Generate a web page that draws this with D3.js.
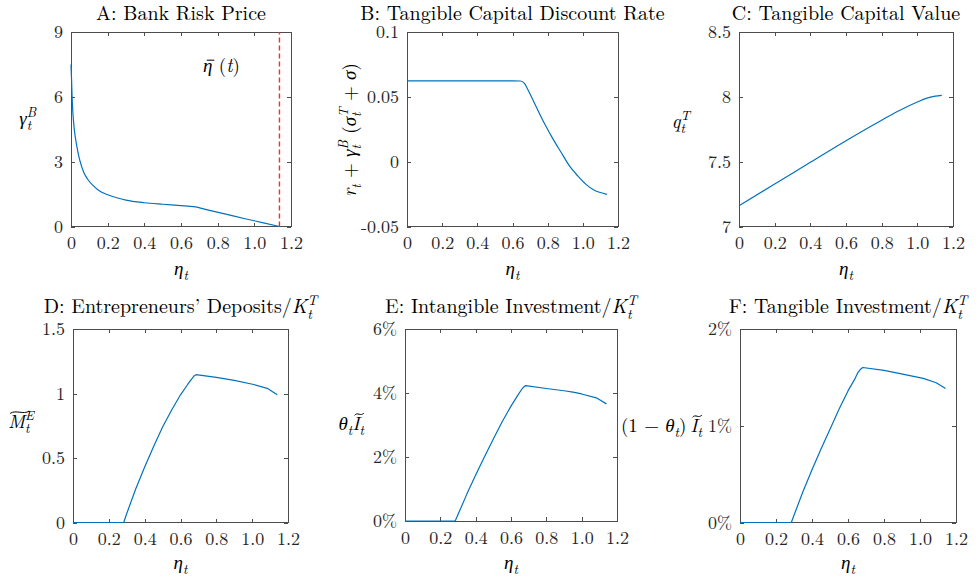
<!DOCTYPE html>
<html>
<head>
<meta charset="utf-8">
<title>Bank Risk Price and Investment</title>
<script src="https://d3js.org/d3.v7.min.js"></script>
<style>
  body { margin: 0; background: #fff; }
  svg { font-family: "Latin Modern Roman", "CMU Serif", "Liberation Serif", "Times New Roman", serif; }
  .box { fill: none; stroke: #4d4d4d; stroke-width: 1; shape-rendering: crispEdges; }
  .axis .domain { display: none; }
  .axis line { stroke: #4d4d4d; shape-rendering: crispEdges; }
  .axis text { fill: #262626; font-size: 18px; }
  .title { fill: #000; font-size: 20px; }
  .lab { fill: #000; font-size: 19px; }
  .acc { fill: none; stroke: #000; stroke-width: 1; }
  .curve { fill: none; stroke: #0072BD; stroke-width: 1.2; stroke-linejoin: round; }
  .etabar { stroke: #ff2a1f; stroke-width: 1.4; stroke-dasharray: 5 3; }
</style>
</head>
<body>
<svg width="976" height="582"></svg>
<script>
// ---- data ----
var xTicks = [0, 0.2, 0.4, 0.6, 0.8, 1.0, 1.2];
var xTickLabels = ["0", "0.2", "0.4", "0.6", "0.8", "1.0", "1.2"];

// A: bank risk price
var etaA   = [0, 0.003, 0.006, 0.01, 0.015, 0.02, 0.03, 0.04, 0.05, 0.07, 0.09, 0.12, 0.15, 0.2, 0.25, 0.3, 0.4, 0.5, 0.6, 0.67, 0.75, 0.85, 0.95, 1.05, 1.137];
var gammaB = [7.5, 6.8, 6.0, 5.3, 4.75, 4.35, 3.8, 3.35, 3.0, 2.5, 2.2, 1.9, 1.68, 1.47, 1.33, 1.22, 1.1, 1.03, 0.97, 0.92, 0.76, 0.56, 0.36, 0.17, 0.0];
var etaBar = 1.137;
var etaBarLabelPos = [0.72, 7.15];
var yTicksA = [0, 3, 6, 9];
var yTickLabelsA = ["0", "3", "6", "9"];

// B: tangible capital discount rate
var etaB     = [0, 0.2, 0.4, 0.6, 0.645, 0.668, 0.687, 0.734, 0.781, 0.829, 0.876, 0.923, 0.971, 1.018, 1.065, 1.1, 1.137];
var discRate = [0.0623, 0.0623, 0.0623, 0.0623, 0.0622, 0.0604, 0.0557, 0.0426, 0.0296, 0.0178, 0.0073, -0.0031, -0.011, -0.0175, -0.022, -0.0238, -0.0252];
var yTicksB = [-0.05, 0, 0.05, 0.1];
var yTickLabelsB = ["-0.05", "0", "0.05", "0.1"];

// C: tangible capital value
var etaC = [0, 0.2, 0.4, 0.6, 0.8, 0.9, 1.0, 1.05, 1.1, 1.137];
var qT   = [7.16, 7.327, 7.495, 7.662, 7.82, 7.895, 7.96, 7.988, 8.005, 8.012];
var yTicksC = [7, 7.5, 8, 8.5];
var yTickLabelsC = ["7", "7.5", "8", "8.5"];

// D: entrepreneurs' deposits / K^T
var etaD      = [0, 0.283, 0.3, 0.35, 0.4, 0.45, 0.5, 0.55, 0.6, 0.64, 0.661, 0.675, 0.687, 0.8, 0.9, 1.009, 1.084, 1.14];
var depositsD = [0, 0, 0.07, 0.26, 0.43, 0.59, 0.74, 0.87, 0.99, 1.07, 1.11, 1.135, 1.146, 1.125, 1.102, 1.07, 1.04, 0.99];
var yTicksD = [0, 0.5, 1, 1.5];
var yTickLabelsD = ["0", "0.5", "1", "1.5"];

// E: intangible investment / K^T (percent)
var etaE      = [0, 0.284, 0.3, 0.35, 0.4, 0.45, 0.5, 0.55, 0.6, 0.64, 0.66, 0.674, 0.684, 0.8, 0.9, 0.951, 1.0, 1.083, 1.14];
var intangInv = [0, 0, 0.2, 0.84, 1.44, 2.01, 2.56, 3.1, 3.59, 3.94, 4.11, 4.2, 4.23, 4.14, 4.07, 4.03, 3.97, 3.85, 3.66];
var yTicksE = [0, 2, 4, 6];
var yTickLabelsE = ["0%", "2%", "4%", "6%"];

// F: tangible investment / K^T (percent)
var etaF    = [0, 0.285, 0.3, 0.35, 0.4, 0.45, 0.5, 0.55, 0.6, 0.64, 0.655, 0.67, 0.682, 0.8, 0.87, 1.018, 1.09, 1.142];
var tangInv = [0, 0, 0.075, 0.32, 0.545, 0.76, 0.965, 1.17, 1.36, 1.49, 1.55, 1.585, 1.602, 1.572, 1.546, 1.489, 1.445, 1.386];
var yTicksF = [0, 1, 2];
var yTickLabelsF = ["0%", "1%", "2%"];

// ---- layout ----
var svg = d3.select("svg");

// label with italic letters, stacked sub/superscripts and bar/tilde accents
function mathText(sel, x, y, parts, cls, anchor, rot) {
  var tr = "translate(" + x + "," + y + ")" + (rot ? " rotate(" + rot + ")" : "");
  var t = sel.append("text").attr("class", cls)
    .attr("text-anchor", anchor || "start")
    .attr("transform", tr);
  var size = parseFloat(getComputedStyle(t.node()).fontSize);
  var small = size * 0.7;
  var shift = 0, pendingDx = 0, nchar = 0, accents = [];
  function span(txt, italic, fs, target) {
    var s = t.append("tspan").text(txt);
    if (italic) s.attr("font-style", "italic");
    if (fs) s.attr("font-size", fs);
    if (target !== shift) { s.attr("dy", target - shift); shift = target; }
    if (pendingDx) { s.attr("dx", pendingDx); pendingDx = 0; }
    nchar += txt.length;
    return s;
  }
  parts.forEach(function(p) {
    if (typeof p === "string") span(p, false, null, 0);
    else if (p.i) {
      if (p.acc) accents.push({ idx: nchar, type: p.acc });
      span(p.i, true, null, 0);
    } else {
      var ws = 0, wp = 0;
      if (p.sub) ws = span(p.sub, true, small, size * 0.28).node().getComputedTextLength();
      if (p.sup) {
        if (p.sub) pendingDx = -ws;
        wp = span(p.sup, true, small, -size * 0.42).node().getComputedTextLength();
      }
      if (p.sub && p.sup && ws > wp) pendingDx = ws - wp;
    }
  });
  if (accents.length) {
    var ag = sel.append("g").attr("transform", tr);
    accents.forEach(function(a) {
      var e = t.node().getExtentOfChar(a.idx);
      if (a.type === "bar") {
        var yb = -size * 0.62;
        ag.append("line").attr("class", "acc")
          .attr("x1", e.x + size * 0.2).attr("x2", e.x + e.width + size * 0.1)
          .attr("y1", yb).attr("y2", yb);
      } else {
        var yt = -size * 0.83, x0 = e.x + size * 0.12, w = e.width + size * 0.1;
        ag.append("path").attr("class", "acc")
          .attr("d", "M" + x0 + "," + (yt + 1.2) +
            "C" + (x0 + w * 0.3) + "," + (yt - 2.8) + " " + (x0 + w * 0.7) + "," + (yt + 2.8) +
            " " + (x0 + w) + "," + (yt - 1.2));
      }
    });
  }
  return t;
}

var panels = [
  { l: 71,  r: 291, t: 32,  b: 226.5, xs: etaA, ys: gammaB,    yd: [0, 9],        yt: yTicksA, yl: yTickLabelsA, curve: d3.curveMonotoneX,
    title: ["A: Bank Risk Price"],
    ylab: { x: 36, y: 125, anchor: "end", parts: [{i: "γ"}, {sub: "t", sup: "B"}] } },
  { l: 407, r: 618, t: 32,  b: 226.5, xs: etaB, ys: discRate,  yd: [-0.05, 0.1],  yt: yTicksB, yl: yTickLabelsB, curve: d3.curveMonotoneX,
    title: ["B: Tangible Capital Discount Rate"],
    ylab: { x: 356, y: 130, rot: -90, anchor: "middle",
            parts: [{i: "r"}, {sub: "t"}, " + ", {i: "γ"}, {sub: "t", sup: "B"}, " (", {i: "σ"}, {sub: "t", sup: "T"}, " + ", {i: "σ"}, ")"] } },
  { l: 739, r: 953, t: 32,  b: 226.5, xs: etaC, ys: qT,        yd: [7, 8.5],      yt: yTicksC, yl: yTickLabelsC, curve: d3.curveMonotoneX,
    title: ["C: Tangible Capital Value"],
    ylab: { x: 690, y: 128, anchor: "end", parts: [{i: "q"}, {sub: "t", sup: "T"}] } },
  { l: 73,  r: 288, t: 329, b: 522.5, xs: etaD, ys: depositsD, yd: [0, 1.5],      yt: yTicksD, yl: yTickLabelsD, curve: d3.curveLinear,
    title: ["D: Entrepreneurs’ Deposits/", {i: "K"}, {sub: "t", sup: "T"}],
    ylab: { x: 34, y: 428, anchor: "end", parts: [{i: "M", acc: "tilde"}, {sub: "t", sup: "E"}] } },
  { l: 405, r: 617, t: 329, b: 521,   xs: etaE, ys: intangInv, yd: [0, 6],        yt: yTicksE, yl: yTickLabelsE, curve: d3.curveLinear,
    title: ["E: Intangible Investment/", {i: "K"}, {sub: "t", sup: "T"}],
    ylab: { x: 364, y: 430, anchor: "end", parts: [{i: "θ"}, {sub: "t"}, {i: "I", acc: "tilde"}, {sub: "t"}] } },
  { l: 740, r: 956, t: 329, b: 522.5, xs: etaF, ys: tangInv,   yd: [0, 2],        yt: yTicksF, yl: yTickLabelsF, curve: d3.curveLinear,
    title: ["F: Tangible Investment/", {i: "K"}, {sub: "t", sup: "T"}],
    ylab: { x: 702, y: 432, anchor: "end", parts: ["(1 − ", {i: "θ"}, {sub: "t"}, ")\u2009", {i: "I", acc: "tilde"}, {sub: "t"}] } }
];

panels.forEach(function(p, k) {
  var x = d3.scaleLinear().domain([0, 1.2]).range([p.l, p.r]);
  var y = d3.scaleLinear().domain(p.yd).range([p.b, p.t]);
  var g = svg.append("g");

  g.append("g").attr("class", "axis")
    .attr("transform", "translate(0," + p.b + ")")
    .call(d3.axisBottom(x).tickValues(xTicks).tickFormat(function(d, i) { return xTickLabels[i]; })
      .tickSizeInner(-4).tickSizeOuter(0).tickPadding(10));
  g.append("g").attr("class", "axis")
    .attr("transform", "translate(0," + p.t + ")")
    .call(d3.axisTop(x).tickValues(xTicks).tickFormat("").tickSizeInner(-4).tickSizeOuter(0));
  g.append("g").attr("class", "axis")
    .attr("transform", "translate(" + p.l + ",0)")
    .call(d3.axisLeft(y).tickValues(p.yt).tickFormat(function(d, i) { return p.yl[i]; })
      .tickSizeInner(-4).tickSizeOuter(0).tickPadding(8));
  g.append("g").attr("class", "axis")
    .attr("transform", "translate(" + p.r + ",0)")
    .call(d3.axisRight(y).tickValues(p.yt).tickFormat("").tickSizeInner(-4).tickSizeOuter(0));

  // let the stylesheet set the tick font
  g.selectAll(".axis").attr("font-size", null).attr("font-family", null);

  g.append("rect").attr("class", "box")
    .attr("x", p.l).attr("y", p.t).attr("width", p.r - p.l).attr("height", p.b - p.t);

  if (k === 0) {
    g.append("line").attr("class", "etabar")
      .attr("x1", x(etaBar)).attr("x2", x(etaBar))
      .attr("y1", y(p.yd[0])).attr("y2", y(p.yd[1]));
    mathText(g, x(etaBarLabelPos[0]), y(etaBarLabelPos[1]),
      [{i: "η", acc: "bar"}, " (", {i: "t"}, ")"], "lab");
  }

  var line = d3.line()
    .x(function(d) { return x(d[0]); })
    .y(function(d) { return y(d[1]); })
    .curve(p.curve);
  g.append("path").attr("class", "curve")
    .attr("d", line(d3.zip(p.xs, p.ys)));

  mathText(g, (p.l + p.r) / 2, k < 3 ? 20 : 313, p.title, "title", "middle");
  mathText(g, p.ylab.x, p.ylab.y, p.ylab.parts, "lab", p.ylab.anchor, p.ylab.rot);
  mathText(g, (p.l + p.r) / 2, k < 3 ? 275 : 569, [{i: "η"}, {sub: "t"}], "lab", "middle");
});
</script>
</body>
</html>
